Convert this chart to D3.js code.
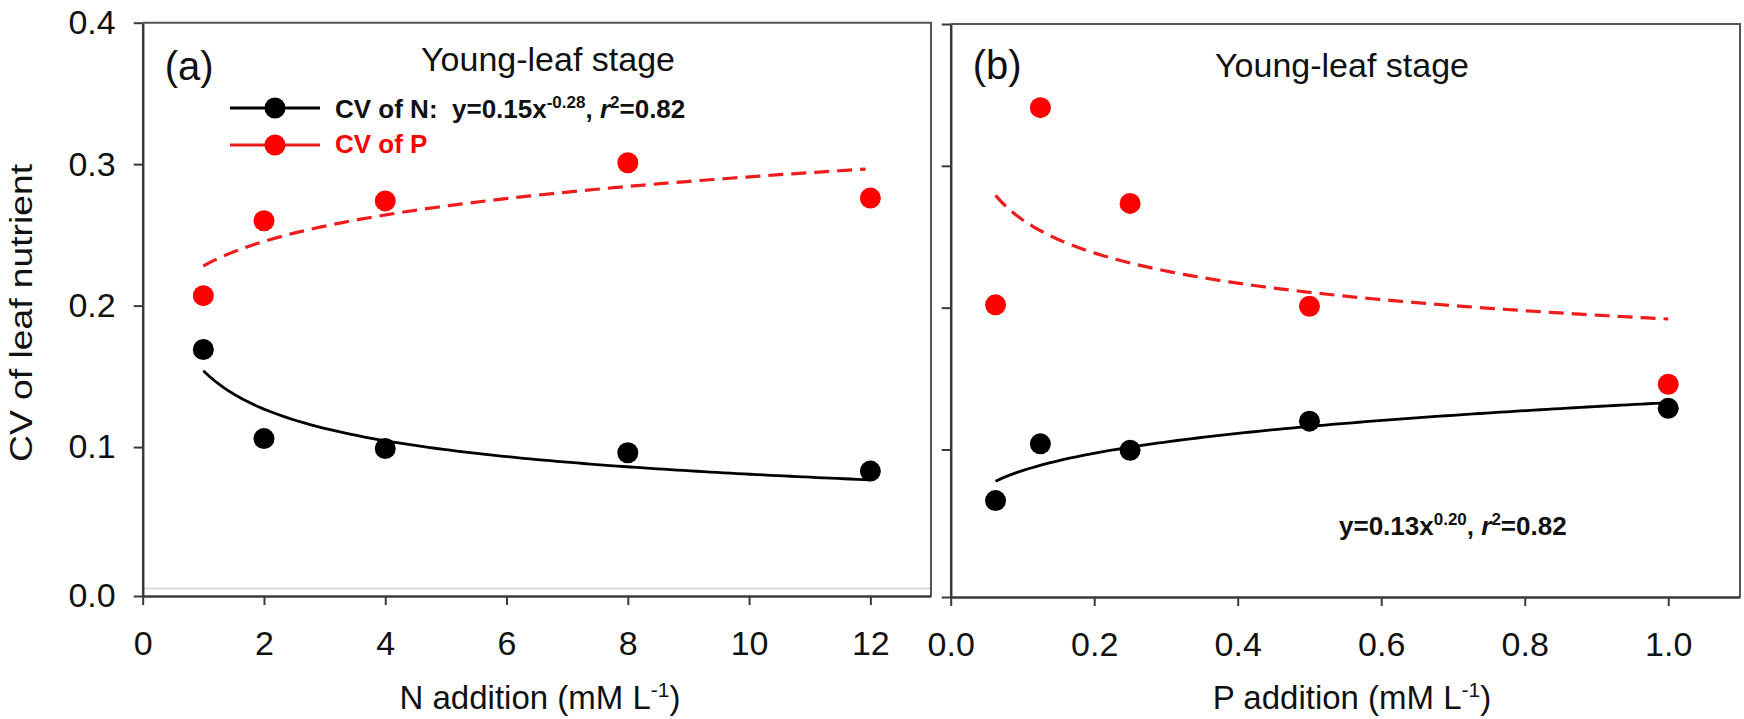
<!DOCTYPE html>
<html>
<head>
<meta charset="utf-8">
<script src="https://cdn.jsdelivr.net/npm/d3@7"></script>
<style>
  body { margin: 0; background: #fff; }
  svg text { font-family: "Liberation Sans", Arial, sans-serif; }
</style>
</head>
<body>
<div id="chart"></div>
<script>
// panel (a): N addition
const nLevels = [1, 2, 4, 8, 12];
const cvN_Nadd = [0.169, 0.106, 0.099, 0.096, 0.083];
const cvP_Nadd = [0.207, 0.260, 0.274, 0.301, 0.276];
const fitN_Nadd = { a: 0.154, b: -0.28 };
const fitP_Nadd = { a: 0.228, b: 0.106 };
const xTicksA = [0, 2, 4, 6, 8, 10, 12];

// panel (b): P addition
const pLevels = [0.0625, 0.125, 0.25, 0.5, 1.0];
const cvN_Padd = [0.064, 0.104, 0.0995, 0.120, 0.129];
const cvP_Padd = [0.202, 0.341, 0.2735, 0.201, 0.146];
const fitN_Padd = { a: 0.133, b: 0.194 };
const fitP_Padd = { a: 0.192, b: -0.135 };
const xTicksB = [0, 0.2, 0.4, 0.6, 0.8, 1.0];

const yTicks = [0.1, 0.2, 0.3, 0.4];

const W = 1744, H = 719;
const svg = d3.select('#chart').append('svg')
    .attr('width', W)
    .attr('height', H);

const axisColor = '#3a3a3a';

function drawPanel(opt) {
    let x = d3.scaleLinear().domain(opt.xDomain).range([opt.left, opt.right]);
    let y = d3.scaleLinear().domain([opt.yMin, 0.4]).range([opt.bottom, opt.top]);
    let g = svg.append('g');

    if (opt.zeroLine) {
        g.append('line')
            .attr('x1', opt.left).attr('x2', opt.right)
            .attr('y1', y(0)).attr('y2', y(0))
            .attr('stroke', '#cfcfcf').attr('stroke-width', 1.5);
    }

    // top + right frame
    g.append('path')
        .attr('d', `M${opt.left},${opt.top}H${opt.right}V${opt.bottom}`)
        .attr('fill', 'none').attr('stroke', '#555').attr('stroke-width', 2);

    let yAxis = d3.axisLeft(y)
        .tickValues([opt.yMin].concat(yTicks))
        .tickSize(9).tickSizeOuter(0).tickPadding(18)
        .tickFormat(d => opt.yLabels ? (d < 0.05 ? '0.0' : d3.format('.1f')(d)) : '');
    let ya = g.append('g').attr('transform', `translate(${opt.left},0)`).call(yAxis);

    let xAxis = d3.axisBottom(x)
        .tickValues(opt.xTicks)
        .tickSize(9).tickSizeOuter(0).tickPadding(26)
        .tickFormat(opt.xFormat);
    let xa = g.append('g').attr('transform', `translate(0,${opt.bottom})`).call(xAxis);

    [ya, xa].forEach(a => {
        a.select('.domain').attr('stroke', axisColor).attr('stroke-width', 2.5);
        a.selectAll('.tick line').attr('stroke', axisColor).attr('stroke-width', 2);
        a.selectAll('.tick text').attr('fill', '#111').style('font-size', '34px');
    });

    // fitted curves
    let curve = (fit, x0, x1) => d3.range(0, 101).map(i => {
        let xv = x0 + (x1 - x0) * i / 100;
        return [x(xv), y(fit.a * Math.pow(xv, fit.b))];
    });
    let line = d3.line();
    let xs = opt.levels;
    g.append('path')
        .attr('d', line(curve(opt.fitP, xs[0], xs[xs.length - 1] - opt.dashTrim)))
        .attr('fill', 'none').attr('stroke', '#ee1c1c')
        .attr('stroke-width', 3.2).attr('stroke-dasharray', '15,8');
    g.append('path')
        .attr('d', line(curve(opt.fitN, xs[0], xs[xs.length - 1])))
        .attr('fill', 'none').attr('stroke', '#000').attr('stroke-width', 2.8);

    // points
    g.append('g').selectAll('circle')
        .data(opt.levels.map((d, i) => ({ x: d, y: opt.cvP[i] })))
        .enter().append('circle')
        .attr('cx', d => x(d.x)).attr('cy', d => y(d.y)).attr('r', 10.5)
        .attr('fill', '#ff0000');
    g.append('g').selectAll('circle')
        .data(opt.levels.map((d, i) => ({ x: d, y: opt.cvN[i] })))
        .enter().append('circle')
        .attr('cx', d => x(d.x)).attr('cy', d => y(d.y)).attr('r', 10.5)
        .attr('fill', '#000');

    // panel letter + title
    g.append('text').attr('x', opt.left + 22).attr('y', opt.letterY)
        .style('font-size', '40px').attr('fill', '#111').text(opt.letter);
    g.append('text').attr('x', opt.titleX).attr('y', opt.titleY)
        .attr('text-anchor', 'middle')
        .style('font-size', '34px').attr('fill', '#111').text('Young-leaf stage');

    // x axis title
    let xt = g.append('text').attr('x', opt.xTitleX).attr('y', 709)
        .attr('text-anchor', 'middle').style('font-size', '33px').attr('fill', '#111');
    xt.append('tspan').text(opt.xTitle + ' addition (mM L');
    xt.append('tspan').attr('dy', -12).style('font-size', '21px').text('-1');
    xt.append('tspan').attr('dy', 12).text(')');

    return { x, y, g };
}

drawPanel({
    left: 142.7, right: 931, top: 22.7, bottom: 596,
    xDomain: [0, 13], yMin: -0.0053, yLabels: true, zeroLine: true,
    xTicks: xTicksA, xFormat: d3.format('d'),
    levels: nLevels, cvN: cvN_Nadd, cvP: cvP_Nadd,
    fitN: fitN_Nadd, fitP: fitP_Nadd, dashTrim: 0.08,
    letter: '(a)', letterY: 80, titleX: 548, titleY: 71,
    xTitle: 'N', xTitleX: 540
});

drawPanel({
    left: 950.7, right: 1740, top: 24, bottom: 597,
    xDomain: [0, 1.1], yMin: -0.004, yLabels: false, zeroLine: false,
    xTicks: xTicksB, xFormat: d3.format('.1f'),
    levels: pLevels, cvN: cvN_Padd, cvP: cvP_Padd,
    fitN: fitN_Padd, fitP: fitP_Padd, dashTrim: 0,
    letter: '(b)', letterY: 79, titleX: 1342, titleY: 77,
    xTitle: 'P', xTitleX: 1352
});

// y axis title
svg.append('text')
    .attr('transform', 'translate(32,313) rotate(-90)')
    .attr('text-anchor', 'middle')
    .attr('textLength', 298).attr('lengthAdjust', 'spacingAndGlyphs')
    .style('font-size', '32px').attr('fill', '#111')
    .text('CV of leaf nutrient');

// legend in panel (a)
const legendItems = [
    { color: '#000', lineColor: '#000', y: 108 },
    { color: '#ff0000', lineColor: '#ee1c1c', y: 145 }
];
legendItems.forEach(d => {
    svg.append('line').attr('x1', 230).attr('x2', 320)
        .attr('y1', d.y).attr('y2', d.y)
        .attr('stroke', d.lineColor).attr('stroke-width', 2.8);
    svg.append('circle').attr('cx', 275).attr('cy', d.y).attr('r', 10.5).attr('fill', d.color);
});

function eqText(sel, pre, a, b) {
    sel.append('tspan').text(pre + a + 'x');
    sel.append('tspan').attr('dy', -10).style('font-size', '17px').text(b);
    sel.append('tspan').attr('dy', 10).text(', ');
    sel.append('tspan').style('font-style', 'italic').text('r');
    sel.append('tspan').attr('dy', -10).style('font-size', '17px').text('2');
    sel.append('tspan').attr('dy', 10).text('=0.82');
}

let legN = svg.append('text').attr('x', 335).attr('y', 118)
    .style('font-size', '26px').style('font-weight', 'bold').attr('fill', '#111')
    .attr('xml:space', 'preserve');
eqText(legN, 'CV of N:  y=', '0.15', '-0.28');

svg.append('text').attr('x', 335).attr('y', 153)
    .style('font-size', '26px').style('font-weight', 'bold').attr('fill', '#ff0000')
    .text('CV of P');

let eqB = svg.append('text').attr('x', 1339).attr('y', 535)
    .style('font-size', '26px').style('font-weight', 'bold').attr('fill', '#111');
eqText(eqB, 'y=', '0.13', '0.20');
</script>
</body>
</html>
